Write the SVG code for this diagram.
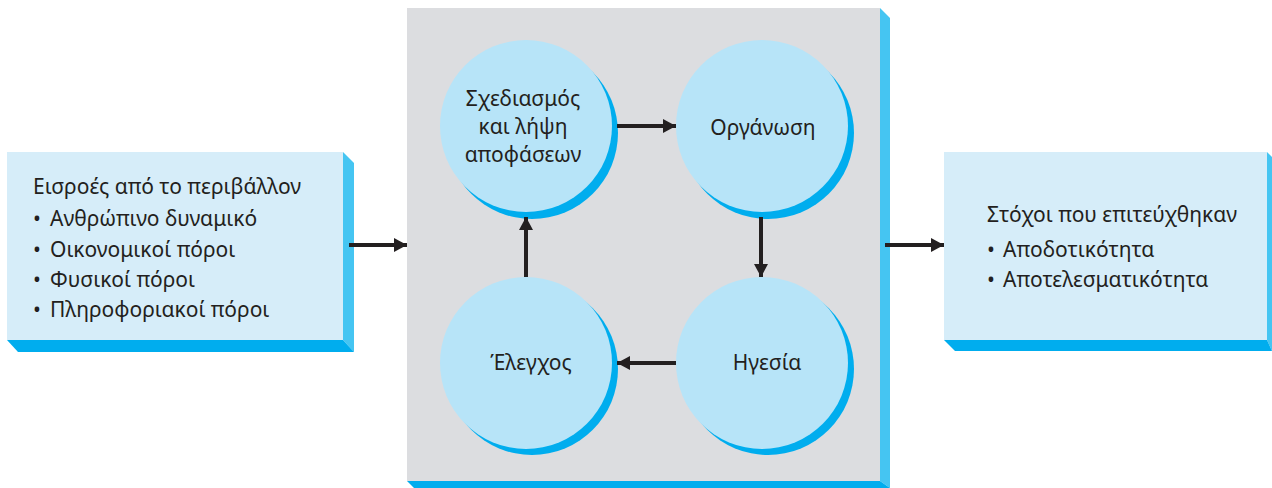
<svg xmlns="http://www.w3.org/2000/svg" width="1272" height="488" viewBox="0 0 1272 488">
<defs>
<style>
.face{fill:#d6edf9}
.side{fill:#45c5f2}
.bot{fill:#00adee}
.panel{fill:#dcdde0}
.circ{fill:#b7e4f8}
.shad{fill:#00adee}
.t{font-family:"Noto Sans","DejaVu Sans",sans-serif;font-size:21px;fill:#231f20}
.c{text-anchor:middle}
.conn{stroke:#231f20;stroke-width:4;fill:none}
</style>
<marker id="ah" markerUnits="userSpaceOnUse" markerWidth="14" markerHeight="14" refX="13" refY="7" orient="auto">
<path d="M0,0 L13,7 L0,14 Z" fill="#231f20"/>
</marker>
</defs>
<rect width="1272" height="488" fill="#ffffff"/>

<g id="inputs">
<rect class="face" x="7" y="152" width="336" height="188"/>
<polygon class="side" points="343,152 354,163 354,352 343,340"/>
<polygon class="bot" points="7,340 18,352 354,352 343,340"/>
<text class="t" x="33" y="194">Εισροές από το περιβάλλον</text>
<text class="t" y="226"><tspan x="33">•</tspan><tspan x="50">Ανθρώπινο δυναμικό</tspan></text>
<text class="t" y="257"><tspan x="33">•</tspan><tspan x="50">Οικονομικοί πόροι</tspan></text>
<text class="t" y="287"><tspan x="33">•</tspan><tspan x="50">Φυσικοί πόροι</tspan></text>
<text class="t" y="317"><tspan x="33">•</tspan><tspan x="50">Πληροφοριακοί πόροι</tspan></text>
</g>

<g id="process">
<rect class="panel" x="407" y="8" width="473" height="473"/>
<polygon class="side" points="880,8 890,18 890,488 880,481"/>
<polygon class="bot" points="407,481 414,488 890,488 880,481"/>
</g>

<g id="planning">
<circle class="shad" cx="532" cy="133" r="86"/>
<circle class="circ" cx="526" cy="126" r="86"/>
<text class="t c" x="523" y="106">Σχεδιασμός</text>
<text class="t c" x="523" y="134">και λήψη</text>
<text class="t c" x="523" y="162">αποφάσεων</text>
</g>

<g id="organizing">
<circle class="shad" cx="768" cy="133" r="86"/>
<circle class="circ" cx="762" cy="126" r="86"/>
<text class="t c" x="763" y="135">Οργάνωση</text>
</g>

<g id="leading">
<circle class="shad" cx="768" cy="369" r="86"/>
<circle class="circ" cx="762" cy="363" r="86"/>
<text class="t c" x="767" y="370">Ηγεσία</text>
</g>

<g id="controlling">
<circle class="shad" cx="532" cy="369" r="86"/>
<circle class="circ" cx="526" cy="363" r="86"/>
<text class="t c" x="531" y="370">Έλεγχος</text>
</g>

<g id="outputs">
<rect class="face" x="944" y="152" width="323" height="188"/>
<polygon class="side" points="1267,152 1272,157 1272,351 1267,340"/>
<polygon class="bot" points="944,340 955,351 1272,351 1267,340"/>
<text class="t" x="987" y="222">Στόχοι που επιτεύχθηκαν</text>
<text class="t" y="257"><tspan x="987">•</tspan><tspan x="1003">Αποδοτικότητα</tspan></text>
<text class="t" y="287"><tspan x="987">•</tspan><tspan x="1003">Αποτελεσματικότητα</tspan></text>
</g>

<g id="connectors">
<line class="conn" x1="349" y1="245" x2="407" y2="245" marker-end="url(#ah)"/>
<line class="conn" x1="617" y1="126" x2="676" y2="126" marker-end="url(#ah)"/>
<line class="conn" x1="761" y1="217" x2="761" y2="277" marker-end="url(#ah)"/>
<line class="conn" x1="676" y1="363" x2="617" y2="363" marker-end="url(#ah)"/>
<line class="conn" x1="526" y1="277" x2="526" y2="217" marker-end="url(#ah)"/>
<line class="conn" x1="885" y1="245" x2="944" y2="245" marker-end="url(#ah)"/>
</g>
</svg>
